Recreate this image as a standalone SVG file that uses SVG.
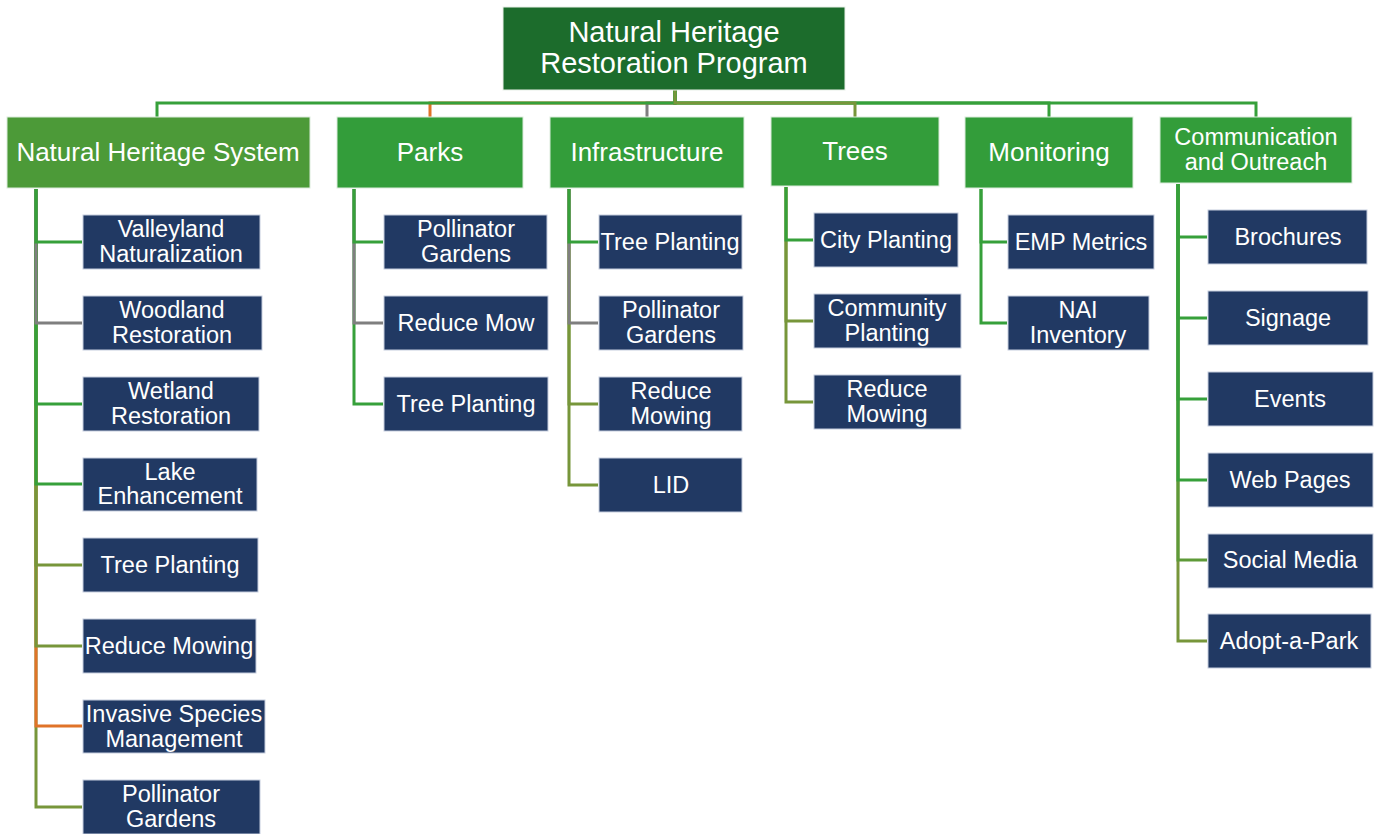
<svg xmlns="http://www.w3.org/2000/svg" width="1374" height="834" viewBox="0 0 1374 834">
<style>
text{font-family:"Liberation Sans",Arial,sans-serif;fill:#fff;text-anchor:middle}
.root rect{fill:#1c6c2c;stroke:#e8efe8;stroke-width:1}
.root text{font-size:29px}
.l1 rect{fill:#339d3a;stroke:#dcebdc;stroke-width:1}
.l1 text{font-size:26px}
.l1.nhs rect{fill:#4c9a38}
.l1.comm text{font-size:23.5px}
.l2 rect{fill:#213963;stroke:#c5cdde;stroke-width:1}
.l2 text{font-size:23.5px}
.c path{fill:none;stroke-width:3}
.g{stroke:#36a03a}
.gy{stroke:#7f7f7f}
.o{stroke:#77963a}
.og{stroke:#5e9a38}
.or{stroke:#e07328}
</style>
<g id="connectors" class="c">
<path class="or" d="M675,90V103H430V117"/>
<path class="gy" d="M675,90V103H647V117"/>
<path class="g" d="M675,90V103H157V117"/>
<path class="g" d="M675,90V103H1049V117"/>
<path class="g" d="M675,90V103H1256V117"/>
<path class="o" d="M675,90V103H855V117"/>
<path class="o" d="M36,189V807H82"/>
<path class="or" d="M36,189V726H82"/>
<path class="o" d="M36,189V646H82"/>
<path class="o" d="M36,189V565H82"/>
<path class="g" d="M36,189V484H82"/>
<path class="g" d="M36,189V404H82"/>
<path class="gy" d="M36,189V323H82"/>
<path class="g" d="M36,189V242H82"/>
<path class="g" d="M354,189V404H383"/>
<path class="gy" d="M354,189V323H383"/>
<path class="g" d="M354,189V242H383"/>
<path class="o" d="M569,189V485H598"/>
<path class="o" d="M569,189V404H598"/>
<path class="gy" d="M569,189V323H598"/>
<path class="g" d="M569,189V242H598"/>
<path class="o" d="M786,187V402H813"/>
<path class="o" d="M786,187V321H813"/>
<path class="g" d="M786,187V240H813"/>
<path class="g" d="M981,189V323H1007"/>
<path class="g" d="M981,189V242H1007"/>
<path class="o" d="M1178,184V641H1207"/>
<path class="og" d="M1178,184V560H1207"/>
<path class="g" d="M1178,184V480H1207"/>
<path class="g" d="M1178,184V399H1207"/>
<path class="g" d="M1178,184V318H1207"/>
<path class="g" d="M1178,184V237H1207"/>
</g>
<g id="root" class="root"><rect x="503" y="7" width="342" height="83"/><text x="674" y="42">Natural Heritage</text><text x="674" y="73">Restoration Program</text></g>
<g id="nhs" class="l1 nhs"><rect x="7" y="117" width="303" height="71"/><text x="158" y="161">Natural Heritage System</text></g>
<g id="parks" class="l1"><rect x="337" y="117" width="186" height="71"/><text x="430" y="161">Parks</text></g>
<g id="infrastructure" class="l1"><rect x="550" y="117" width="194" height="71"/><text x="647" y="161">Infrastructure</text></g>
<g id="trees" class="l1"><rect x="771" y="117" width="168" height="69"/><text x="855" y="160">Trees</text></g>
<g id="monitoring" class="l1"><rect x="965" y="117" width="168" height="71"/><text x="1049" y="161">Monitoring</text></g>
<g id="comm" class="l1 comm"><rect x="1160" y="117" width="192" height="66"/><text x="1256" y="145">Communication</text><text x="1256" y="170">and Outreach</text></g>
<g id="nhs-valleyland" class="l2"><rect x="83" y="215" width="177" height="54"/><text x="171" y="237">Valleyland</text><text x="171" y="262">Naturalization</text></g>
<g id="nhs-woodland" class="l2"><rect x="83" y="296" width="179" height="54"/><text x="172" y="318">Woodland</text><text x="172" y="343">Restoration</text></g>
<g id="nhs-wetland" class="l2"><rect x="83" y="377" width="176" height="54"/><text x="171" y="399">Wetland</text><text x="171" y="424">Restoration</text></g>
<g id="nhs-lake" class="l2"><rect x="83" y="458" width="174" height="53"/><text x="170" y="480">Lake</text><text x="170" y="504">Enhancement</text></g>
<g id="nhs-tree" class="l2"><rect x="83" y="538" width="175" height="54"/><text x="170" y="573">Tree Planting</text></g>
<g id="nhs-mowing" class="l2"><rect x="83" y="619" width="173" height="54"/><text x="169" y="654">Reduce Mowing</text></g>
<g id="nhs-invasive" class="l2"><rect x="83" y="700" width="182" height="53"/><text x="174" y="722">Invasive Species</text><text x="174" y="747">Management</text></g>
<g id="nhs-pollinator" class="l2"><rect x="83" y="780" width="177" height="54"/><text x="171" y="802">Pollinator</text><text x="171" y="827">Gardens</text></g>
<g id="parks-pollinator" class="l2"><rect x="384" y="215" width="163" height="54"/><text x="466" y="237">Pollinator</text><text x="466" y="262">Gardens</text></g>
<g id="parks-mow" class="l2"><rect x="384" y="296" width="164" height="54"/><text x="466" y="331">Reduce Mow</text></g>
<g id="parks-tree" class="l2"><rect x="384" y="377" width="164" height="54"/><text x="466" y="412">Tree Planting</text></g>
<g id="infra-tree" class="l2"><rect x="599" y="215" width="143" height="54"/><text x="670" y="250">Tree Planting</text></g>
<g id="infra-pollinator" class="l2"><rect x="599" y="296" width="144" height="54"/><text x="671" y="318">Pollinator</text><text x="671" y="343">Gardens</text></g>
<g id="infra-mowing" class="l2"><rect x="599" y="377" width="143" height="54"/><text x="671" y="399">Reduce</text><text x="671" y="424">Mowing</text></g>
<g id="infra-lid" class="l2"><rect x="599" y="458" width="143" height="54"/><text x="671" y="493">LID</text></g>
<g id="trees-city" class="l2"><rect x="814" y="213" width="144" height="54"/><text x="886" y="248">City Planting</text></g>
<g id="trees-community" class="l2"><rect x="814" y="294" width="147" height="54"/><text x="887" y="316">Community</text><text x="887" y="341">Planting</text></g>
<g id="trees-mowing" class="l2"><rect x="814" y="375" width="147" height="54"/><text x="887" y="397">Reduce</text><text x="887" y="422">Mowing</text></g>
<g id="mon-emp" class="l2"><rect x="1008" y="215" width="146" height="54"/><text x="1081" y="250">EMP Metrics</text></g>
<g id="mon-nai" class="l2"><rect x="1008" y="296" width="141" height="54"/><text x="1078" y="318">NAI</text><text x="1078" y="343">Inventory</text></g>
<g id="comm-brochures" class="l2"><rect x="1208" y="210" width="159" height="54"/><text x="1288" y="245">Brochures</text></g>
<g id="comm-signage" class="l2"><rect x="1208" y="291" width="160" height="54"/><text x="1288" y="326">Signage</text></g>
<g id="comm-events" class="l2"><rect x="1208" y="372" width="165" height="54"/><text x="1290" y="407">Events</text></g>
<g id="comm-web" class="l2"><rect x="1208" y="453" width="165" height="54"/><text x="1290" y="488">Web Pages</text></g>
<g id="comm-social" class="l2"><rect x="1208" y="534" width="165" height="54"/><text x="1290" y="568">Social Media</text></g>
<g id="comm-adopt" class="l2"><rect x="1208" y="614" width="163" height="54"/><text x="1289" y="649">Adopt-a-Park</text></g>
</svg>
